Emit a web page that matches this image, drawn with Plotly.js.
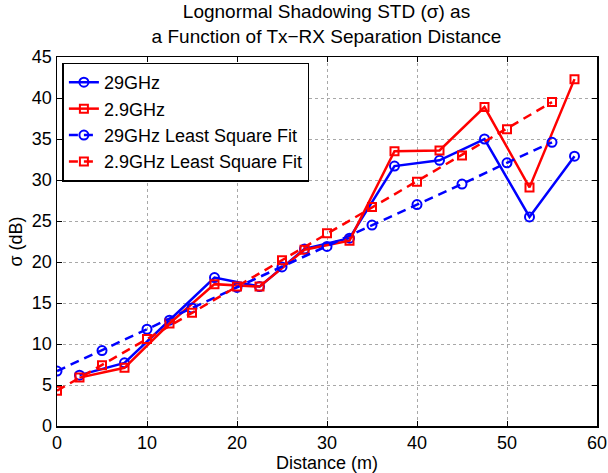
<!DOCTYPE html>
<html>
<head>
<meta charset="utf-8">
<script src="https://cdn.plot.ly/plotly-3.0.1.min.js"></script>
<style>html,body{margin:0;padding:0;background:#fff;}#chart{width:608px;height:473px;}</style>
</head>
<body>
<div id="chart"></div>
<script>
// Measured points (distance in m, sigma in dB)
const distMeasured = [2.5, 7.5, 12.5, 17.5, 22.5, 27.5, 32.5, 37.5, 42.5, 47.5, 52.5, 57.5];
const sigma29 = [6.2, 7.7, 12.9, 18.1, 17.0, 21.6, 22.9, 31.7, 32.4, 35.0, 25.5, 32.9];
const sigma2_9 = [5.9, 7.1, 12.5, 17.3, 17.0, 21.5, 22.6, 33.5, 33.6, 38.9, 29.1, 42.3];
// Least square fit points
const distFit = [0, 5, 10, 15, 20, 25, 30, 35, 40, 45, 50, 55];
const fit29 = [6.7, 9.2, 11.8, 14.4, 16.9, 19.4, 21.9, 24.5, 27.0, 29.5, 32.1, 34.6];
const fit2_9 = [4.3, 7.4, 10.6, 13.8, 17.0, 20.2, 23.5, 26.7, 29.8, 33.0, 36.2, 39.5];
const xTicks = [0, 10, 20, 30, 40, 50, 60];
const yTicks = [0, 5, 10, 15, 20, 25, 30, 35, 40, 45];

const BLUE = '#0000ff', RED = '#ff0000';
const FONT = 'Liberation Sans, Arial, Helvetica, sans-serif';

const traces = [
  {x: distMeasured, y: sigma29, name: '29GHz', mode: 'lines+markers',
   line: {color: BLUE, width: 2.5},
   marker: {symbol: 'circle-open', size: 9, color: BLUE, line: {width: 2, color: BLUE}}},
  {x: distMeasured, y: sigma2_9, name: '2.9GHz', mode: 'lines+markers',
   line: {color: RED, width: 2.5},
   marker: {symbol: 'square-open', size: 8, color: RED, line: {width: 2, color: RED}}},
  {x: distFit, y: fit29, name: '29GHz Least Square Fit', mode: 'lines+markers',
   line: {color: BLUE, width: 2.5, dash: '9px,6px'},
   marker: {symbol: 'circle-open', size: 9, color: BLUE, line: {width: 2, color: BLUE}}},
  {x: distFit, y: fit2_9, name: '2.9GHz Least Square Fit', mode: 'lines+markers',
   line: {color: RED, width: 2.5, dash: '9px,6px'},
   marker: {symbol: 'square-open', size: 8, color: RED, line: {width: 2, color: RED}}}
];

const axisCommon = {
  showline: true, linecolor: '#000', linewidth: 1.5, mirror: 'ticks',
  ticks: 'inside', ticklen: 5, tickwidth: 1, tickcolor: '#000',
  showgrid: true, gridcolor: '#a8a8a8', griddash: 'dot', gridwidth: 1,
  zeroline: false, tickfont: {family: FONT, size: 18, color: '#000'}
};

const layout = {
  width: 608, height: 473,
  margin: {l: 57, r: 11, t: 57, b: 47},
  paper_bgcolor: '#fff', plot_bgcolor: '#fff',
  font: {family: FONT, size: 18, color: '#000'},
  title: {text: 'Lognormal Shadowing STD (σ) as<br>a Function of Tx−RX Separation Distance',
          x: 0.537, xanchor: 'center', y: 1, yanchor: 'bottom', yref: 'paper',
          pad: {b: 39},
          font: {family: FONT, size: 19, color: '#000'}},
  xaxis: Object.assign({}, axisCommon, {range: [0, 60], tickvals: xTicks, ticktext: xTicks.map(String),
          title: {text: 'Distance (m)', standoff: 1, font: {family: FONT, size: 18}}}),
  yaxis: Object.assign({}, axisCommon, {range: [0, 45], tickvals: yTicks, ticktext: yTicks.map(String),
          title: {text: 'σ (dB)', standoff: 4, font: {family: FONT, size: 18}}}),
  showlegend: true,
  legend: {x: 0.01, y: 0.985, xanchor: 'left', yanchor: 'top',
           bgcolor: '#fff', bordercolor: '#000', borderwidth: 1.5,
           font: {family: FONT, size: 18, color: '#000'},
           tracegroupgap: 0, itemwidth: 30}
};

Plotly.newPlot('chart', traces, layout, {displayModeBar: false, staticPlot: true});
</script>
</body>
</html>
